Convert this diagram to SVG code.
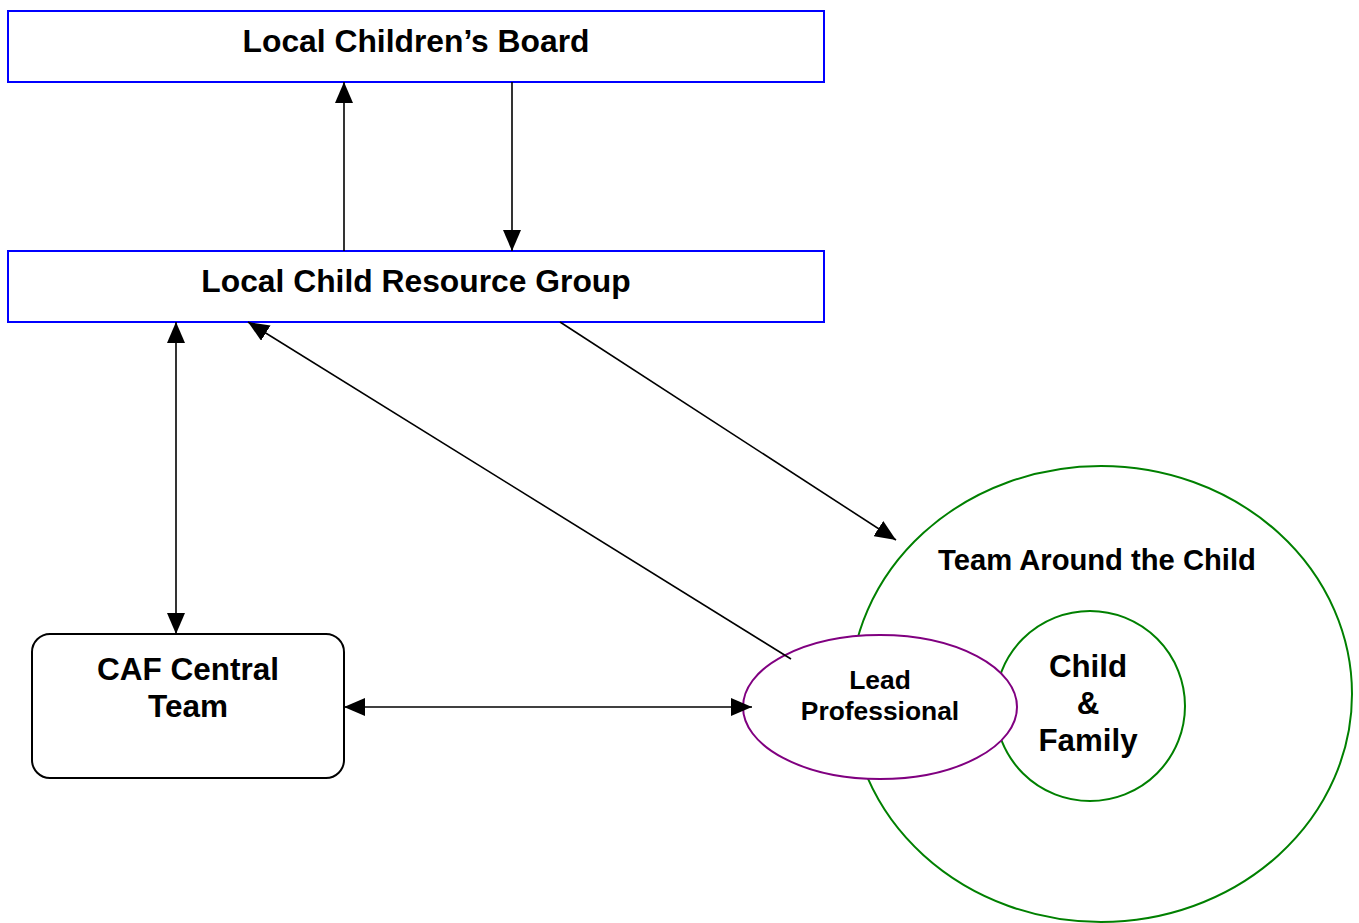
<svg xmlns="http://www.w3.org/2000/svg" width="1359" height="923" viewBox="0 0 1359 923">
<style>
.lbl{font-family:"Liberation Sans",Arial,sans-serif;font-weight:bold;fill:#000;text-anchor:middle}
.box{fill:#fff;stroke:#0000ff;stroke-width:2}
.conn{fill:none;stroke:#000;stroke-width:1.6}
</style>
<defs>
<marker id="ah" viewBox="0 0 21 18" refX="21" refY="9" markerWidth="21" markerHeight="18" markerUnits="userSpaceOnUse" orient="auto-start-reverse">
<path d="M0,0 L21,9 L0,18 z" fill="#000"/>
</marker>
</defs>
<rect width="1359" height="923" fill="#fff"/>
<g id="tac">
<ellipse cx="1101" cy="694" rx="251" ry="228" fill="#fff" stroke="#008000" stroke-width="2"/>
<text class="lbl" x="1097" y="570" font-size="29.2">Team Around the Child</text>
</g>
<g id="child-family">
<circle cx="1090" cy="706" r="95" fill="#fff" stroke="#008000" stroke-width="2"/>
<text class="lbl" x="1088" y="677" font-size="31.3">Child</text>
<text class="lbl" x="1088" y="714" font-size="31.3">&amp;</text>
<text class="lbl" x="1088" y="751" font-size="31.3">Family</text>
</g>
<g id="lead">
<ellipse cx="880" cy="707" rx="137" ry="72" fill="#fff" stroke="#800080" stroke-width="2"/>
<text class="lbl" x="880" y="689" font-size="26.4">Lead</text>
<text class="lbl" x="880" y="720" font-size="26.4">Professional</text>
</g>
<g id="lcb">
<rect class="box" x="8" y="11" width="816" height="71"/>
<text class="lbl" x="416" y="52" font-size="31.8">Local Children’s Board</text>
</g>
<g id="lcrg">
<rect class="box" x="8" y="251" width="816" height="71"/>
<text class="lbl" x="416" y="292" font-size="31.8">Local Child Resource Group</text>
</g>
<g id="caf">
<rect x="32" y="634" width="312" height="144" rx="18" ry="18" fill="#fff" stroke="#000" stroke-width="2"/>
<text class="lbl" x="188" y="680" font-size="31.5">CAF Central</text>
<text class="lbl" x="188" y="717" font-size="31.5">Team</text>
</g>
<g id="connectors">
<line class="conn" x1="344" y1="251" x2="344" y2="82" marker-end="url(#ah)"/>
<line class="conn" x1="512" y1="82" x2="512" y2="251" marker-end="url(#ah)"/>
<line class="conn" x1="176" y1="322" x2="176" y2="634" marker-start="url(#ah)" marker-end="url(#ah)"/>
<line class="conn" x1="344" y1="707" x2="752" y2="707" marker-start="url(#ah)" marker-end="url(#ah)"/>
<line class="conn" x1="560" y1="322" x2="896" y2="540" marker-end="url(#ah)"/>
<line class="conn" x1="791" y1="659" x2="248" y2="322" marker-end="url(#ah)"/>
</g>
</svg>
